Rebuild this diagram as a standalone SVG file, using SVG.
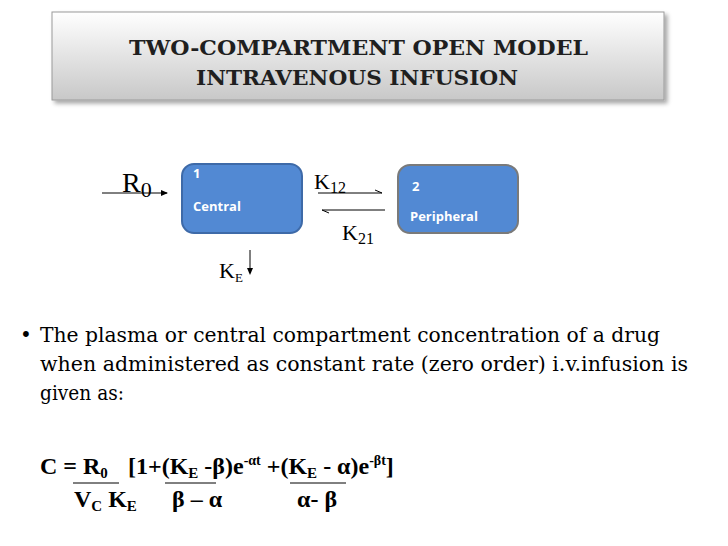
<svg xmlns="http://www.w3.org/2000/svg" width="728" height="546" viewBox="0 0 728 546">
<defs>
<linearGradient id="g" x1="0" y1="0" x2="0" y2="1"><stop offset="0" stop-color="#ffffff"/><stop offset="1" stop-color="#c8c8c8"/></linearGradient>
<filter id="sh" x="-5%" y="-10%" width="115%" height="130%"><feDropShadow dx="3" dy="3" stdDeviation="2" flood-color="#000" flood-opacity="0.35"/></filter>
</defs>
<style>
.t{font-family:"DejaVu Serif","Liberation Serif",serif;font-weight:bold;font-size:21px;fill:#1f1f1f}
.s{font-family:"Liberation Serif",serif;font-size:22px;fill:#000}
.b{fill:#5289d3;stroke:#3e6aa8;stroke-width:2}
.bt{font-family:"Open Sans","Liberation Sans",sans-serif;font-weight:bold;font-size:13px;fill:#fff}
.body{font-family:"DejaVu Serif","Liberation Serif",serif;font-size:20px;fill:#000}
.f{font-family:"Liberation Serif",serif;font-weight:bold;font-size:24px;fill:#000}
.ln{stroke:#000;stroke-width:1;fill:none}
</style>
<rect width="728" height="546" fill="#fff"/>
<g id="title">
<rect x="52" y="12" width="612" height="88" fill="url(#g)" stroke="#9a9a9a" filter="url(#sh)"/>
<text class="t" x="129" y="55" textLength="459" lengthAdjust="spacingAndGlyphs">TWO-COMPARTMENT OPEN MODEL</text>
<text class="t" x="196" y="85" textLength="322" lengthAdjust="spacingAndGlyphs">INTRAVENOUS INFUSION</text>
</g>
<g id="central">
<rect class="b" x="182" y="164" width="120" height="69" rx="12"/>
<text class="bt" x="193" y="178">1</text>
<text class="bt" x="193" y="211">Central</text>
</g>
<g id="peripheral">
<rect class="b" x="398" y="165" width="120" height="68" rx="12" style="stroke:#7a7a7a"/>
<text class="bt" x="412" y="191">2</text>
<text class="bt" x="410" y="221">Peripheral</text>
</g>
<g id="connectors">
<line class="ln" x1="102" y1="193" x2="167" y2="193"/>
<path d="M168 193 L161 190 L161 196 Z" fill="#000"/>
<line class="ln" x1="318" y1="193" x2="382" y2="193"/>
<line class="ln" x1="382" y1="193" x2="375" y2="190"/>
<line class="ln" x1="385" y1="210" x2="322" y2="210"/>
<line class="ln" x1="322" y1="210" x2="329" y2="213"/>
<line class="ln" x1="250" y1="250" x2="250" y2="273"/>
<path d="M250 275 L247 268 L253 268 Z" fill="#000"/>
</g>
<g id="labels">
<text class="s" x="122" y="192" style="font-size:28px">R<tspan dy="5" style="font-size:22px">0</tspan></text>
<text class="s" x="314" y="189" style="font-size:22px">K<tspan dy="4" style="font-size:16px">12</tspan></text>
<text class="s" x="342" y="240" style="font-size:22px">K<tspan dy="4" style="font-size:16px">21</tspan></text>
<text class="s" x="219" y="278" style="font-size:22px">K<tspan dy="4" style="font-size:13px">E</tspan></text>
</g>
<g id="body">
<text class="body" x="20" y="342">•</text>
<text class="body" x="40" y="342" textLength="620" lengthAdjust="spacingAndGlyphs">The plasma or central compartment concentration  of a drug</text>
<text class="body" x="40" y="371" textLength="648" lengthAdjust="spacingAndGlyphs">when administered as constant rate (zero order)   i.v.infusion is</text>
<text class="body" x="40" y="400" textLength="84" lengthAdjust="spacingAndGlyphs">given as:</text>
</g>
<g id="formula">
<text class="f" x="40" y="474">C = R<tspan style="font-size:15px" dy="4">0</tspan></text>
<text class="f" x="128" y="474">[1+(K<tspan style="font-size:15px" dy="4">E</tspan><tspan dy="-4"> -β)e</tspan><tspan style="font-size:14px" dy="-9">-αt</tspan><tspan dy="9"> +(K</tspan><tspan style="font-size:15px" dy="4">E</tspan><tspan dy="-4"> - α)e</tspan><tspan style="font-size:14px" dy="-9">-βt</tspan><tspan dy="9">]</tspan></text>
<line class="ln" x1="73" y1="483" x2="119" y2="483"/>
<line class="ln" x1="165" y1="483" x2="216" y2="483"/>
<line class="ln" x1="290" y1="483" x2="346" y2="483"/>
<text class="f" x="74" y="507">V<tspan style="font-size:15px" dy="4">C</tspan><tspan dy="-4"> K</tspan><tspan style="font-size:15px" dy="4">E</tspan></text>
<text class="f" x="172" y="507">β – α</text>
<text class="f" x="297" y="507">α- β</text>
</g>
</svg>
